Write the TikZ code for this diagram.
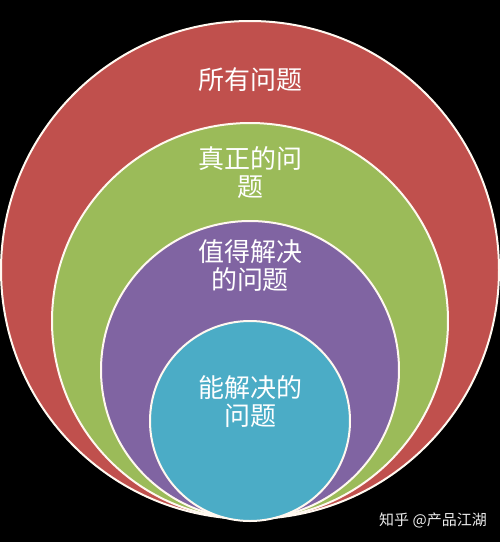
\documentclass[tikz,border=0pt]{standalone}
\usepackage{fontspec}
\newfontfamily\cjk{Noto Sans CJK SC}
\definecolor{allred}{HTML}{C0504D}
\definecolor{realgreen}{HTML}{9BBB59}
\definecolor{worthpurple}{HTML}{8064A2}
\definecolor{solvecyan}{HTML}{4BACC6}
\definecolor{ringline}{HTML}{FFF8F0}
\begin{document}
\begin{tikzpicture}[x=1pt,y=-1pt]
  \tikzset{
    ring/.style={draw=ringline,line width=2pt},
    lbl/.style={text=white,font=\cjk\fontsize{26}{28}\selectfont,align=center,inner sep=0pt}
  }
  \def\ring#1#2#3{
    \filldraw[ring,fill=#3] (250,#1) circle (#2pt);
  }
  \fill[black] (0,0) rectangle (500,542);
  \useasboundingbox (0,0) rectangle (500,542);
  % nested circles, all touching at the bottom
  \ring{270}{249}{allred}
  \ring{321}{198}{realgreen}
  \ring{370}{149}{worthpurple}
  \ring{421}{100}{solvecyan}
  % labels
  \node[lbl] (all) at (250,80) {所有问题};
  \node[lbl] (real) at (250,173) {真正的问\\题};
  \node[lbl] (worth) at (250,266) {值得解决\\的问题};
  \node[lbl] (solve) at (250,402) {能解决的\\问题};
  \node[text=white!92!black,font=\cjk\fontsize{15}{18}\selectfont] (mark) at (433,520) {知乎 @产品江湖};
\end{tikzpicture}
\end{document}
